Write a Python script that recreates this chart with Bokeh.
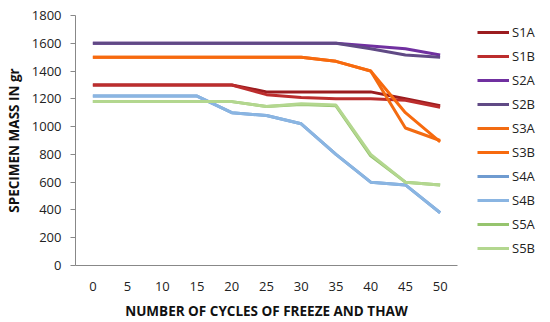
from bokeh.plotting import figure
from bokeh.layouts import row
from bokeh.models import Legend, LegendItem, Range1d, SingleIntervalTicker, FixedTicker
from bokeh.embed import file_html
from bokeh.resources import INLINE

cycles = [0, 5, 10, 15, 20, 25, 30, 35, 40, 45, 50]
S1A = [1300, 1300, 1300, 1300, 1300, 1250, 1250, 1250, 1250, 1200, 1150]
S1B = [1300, 1300, 1300, 1300, 1300, 1230, 1210, 1200, 1200, 1190, 1140]
S2A = [1600, 1600, 1600, 1600, 1600, 1600, 1600, 1600, 1580, 1560, 1515]
S2B = [1600, 1600, 1600, 1600, 1600, 1600, 1600, 1600, 1560, 1515, 1500]
S3A = [1500, 1500, 1500, 1500, 1500, 1500, 1500, 1470, 1400, 990, 900]
S3B = [1500, 1500, 1500, 1500, 1500, 1500, 1500, 1470, 1400, 1100, 890]
S4A = [1220, 1220, 1220, 1220, 1100, 1080, 1020, 800, 600, 580, 380]
S4B = [1220, 1220, 1220, 1220, 1100, 1080, 1020, 800, 600, 580, 380]
S5A = [1180, 1180, 1180, 1180, 1180, 1145, 1160, 1150, 790, 600, 580]
S5B = [1180, 1180, 1180, 1180, 1180, 1145, 1165, 1155, 800, 600, 580]

names = ["S1A", "S1B", "S2A", "S2B", "S3A", "S3B", "S4A", "S4B", "S5A", "S5B"]
series = [S1A, S1B, S2A, S2B, S3A, S3B, S4A, S4B, S5A, S5B]
colors = ["#9B1C1F", "#BC2D2D", "#7030A0", "#604A85", "#F26B12", "#F76A0E",
          "#6F9BD0", "#8AB5E2", "#96C46E", "#B3D78F"]

FONT = "Open Sans"

p = figure(x_range=Range1d(-2.5, 52.5), y_range=Range1d(0, 1800),
           width=469, height=322, output_backend="svg", toolbar_location=None,
           min_border_left=75, min_border_right=12, min_border_top=15, min_border_bottom=57)
p.outline_line_color = None
p.xgrid.grid_line_color = None
p.ygrid.grid_line_color = None
p.background_fill_color = "white"

for s, c in zip(series, colors):
    p.line(cycles, s, line_color=c, line_width=3)

p.xaxis.ticker = FixedTicker(ticks=cycles)
p.yaxis.ticker = SingleIntervalTicker(interval=200)
for ax in (p.xaxis[0], p.yaxis[0]):
    ax.axis_line_color = "#888888"
    ax.axis_line_width = 1
    ax.major_label_text_font = FONT
    ax.major_label_text_font_size = "13px"
    ax.major_label_text_color = "#222222"
    ax.axis_label_text_font = FONT
    ax.axis_label_text_font_style = "bold"
    ax.axis_label_text_font_size = "13.5px"
    ax.axis_label_text_color = "#111111"
    ax.minor_tick_line_color = None

p.yaxis.major_tick_line_color = "#888888"
p.yaxis.major_tick_out = 5
p.yaxis.major_tick_in = 0
p.yaxis.major_label_standoff = 9
p.xaxis.major_tick_line_color = None
p.xaxis.major_tick_out = 0
p.xaxis.major_tick_in = 0
p.xaxis.major_label_standoff = 16
p.xaxis.axis_label = "NUMBER OF CYCLES OF FREEZE AND THAW"
p.yaxis.axis_label = "SPECIMEN MASS IN gr"
p.xaxis.axis_label_standoff = 8
p.yaxis.axis_label_standoff = 6

# legend panel: separate narrow figure; its frame is aligned with the main frame,
# so the legend is kept compact enough to fit inside it
lg = figure(width=81, height=322, output_backend="svg", toolbar_location=None,
            x_axis_location=None, y_axis_location=None,
            min_border_left=0, min_border_right=0, min_border_top=0, min_border_bottom=0)
lg.outline_line_color = None
lg.xgrid.grid_line_color = None
lg.ygrid.grid_line_color = None
items = []
for n, s, c in zip(names, series, colors):
    r = lg.line(x=[cycles[0]], y=[s[0]], line_color=c, line_width=3)
    items.append(LegendItem(label=n, renderers=[r]))
legend = Legend(items=items, location="top_left", orientation="vertical",
                glyph_width=32, glyph_height=18, spacing=6, padding=0, margin=8,
                label_standoff=3, label_text_font=FONT, label_text_font_size="13px",
                label_text_color="#222222", border_line_color=None,
                background_fill_alpha=0)
lg.add_layout(legend, "center")

layout = row(p, lg)
open("out.html", "w").write(file_html(layout, INLINE))
